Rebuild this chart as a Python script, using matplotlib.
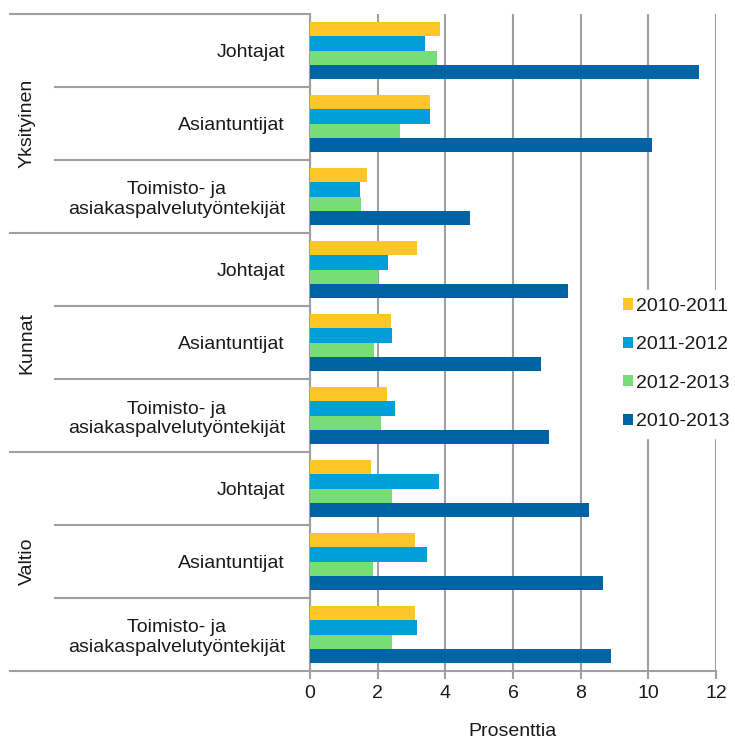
import numpy as np
import matplotlib
matplotlib.use("Agg")
import matplotlib.pyplot as plt
from matplotlib.lines import Line2D

plt.rcParams['font.family'] = ['Liberation Sans', 'DejaVu Sans']

groups = ["Yksityinen", "Kunnat", "Valtio"]
occupations = ["Johtajat", "Asiantuntijat", "Toimisto- ja\nasiakaspalvelutyöntekijät"]
series = ["2010-2011", "2011-2012", "2012-2013", "2010-2013"]
colors = ["#FFC629", "#009FDA", "#77DD77", "#0064A4"]

# values per category, order: Yksityinen (J, A, T), Kunnat (J, A, T), Valtio (J, A, T)
v_2010_2011 = [3.85, 3.56, 1.67, 3.17, 2.38, 2.28, 1.81, 3.09, 3.09]
v_2011_2012 = [3.41, 3.56, 1.47, 2.32, 2.43, 2.52, 3.80, 3.47, 3.17]
v_2012_2013 = [3.75, 2.65, 1.52, 2.00, 1.89, 2.09, 2.43, 1.86, 2.43]
v_2010_2013 = [11.49, 10.10, 4.74, 7.64, 6.83, 7.07, 8.26, 8.67, 8.91]
values = [v_2010_2011, v_2011_2012, v_2012_2013, v_2010_2013]

W, H = 735, 744
fig = plt.figure(figsize=(W / 100, H / 100), dpi=100)
ax = fig.add_axes([310 / W, 1 - 671 / H, (716 - 310) / W, (671 - 14) / H])

n = len(groups) * len(occupations)
pos = np.arange(n) + 0.5
bh = 0.197
grey = "#a0a0a0"
txt = "#1a1a1a"

for i, (vals, c) in enumerate(zip(values, colors)):
    ax.barh(pos + (i - 1.5) * bh, vals, height=bh, color=c, label=series[i], zorder=3)

ax.set_xlim(0, 12)
ax.set_ylim(n, 0)
ax.set_xticks(range(0, 13, 2))
ax.tick_params(axis='x', length=6, color=grey, width=1.5, labelsize=14, labelcolor=txt, pad=4)
ax.xaxis.grid(True, color=grey, linewidth=1.5, zorder=0)
ax.set_xlabel("Prosenttia", fontsize=14, color=txt, labelpad=15)

ax.set_yticks(pos)
ax.set_yticklabels(occupations * len(groups), fontsize=14, color=txt)
for lbl in ax.get_yticklabels():
    lbl.set_multialignment('center')
ax.tick_params(axis='y', length=0, pad=18)

for s in ["top", "right"]:
    ax.spines[s].set_visible(False)
for s in ["left", "bottom"]:
    ax.spines[s].set_color(grey)
    ax.spines[s].set_linewidth(1.5)

# separator lines left of the axis: long ones between sectors, short ones within
trans = ax.get_yaxis_transform()
for k in range(n + 1):
    if k % 3 == 0:
        x0 = (10 - 310) / (716 - 310)
    else:
        x0 = (55 - 310) / (716 - 310)
    ax.add_line(Line2D([x0, 0], [k, k], transform=trans, color=grey, lw=1.5, clip_on=False))

for g, name in enumerate(groups):
    ax.text((27 - 310) / (716 - 310), g * 3 + 1.5, name, transform=trans, rotation=90,
            ha='center', va='center', fontsize=14, color=txt)

fig.legend(loc='center left', bbox_to_anchor=(615 / W, 1 - 364 / H), borderaxespad=0,
           frameon=True, facecolor='white', edgecolor='white', framealpha=1, fontsize=14,
           handlelength=0.5, handleheight=0.5, handletextpad=0.2, labelspacing=1.1,
           borderpad=0.4, labelcolor=txt)

fig.savefig("out.png", dpi=100)
